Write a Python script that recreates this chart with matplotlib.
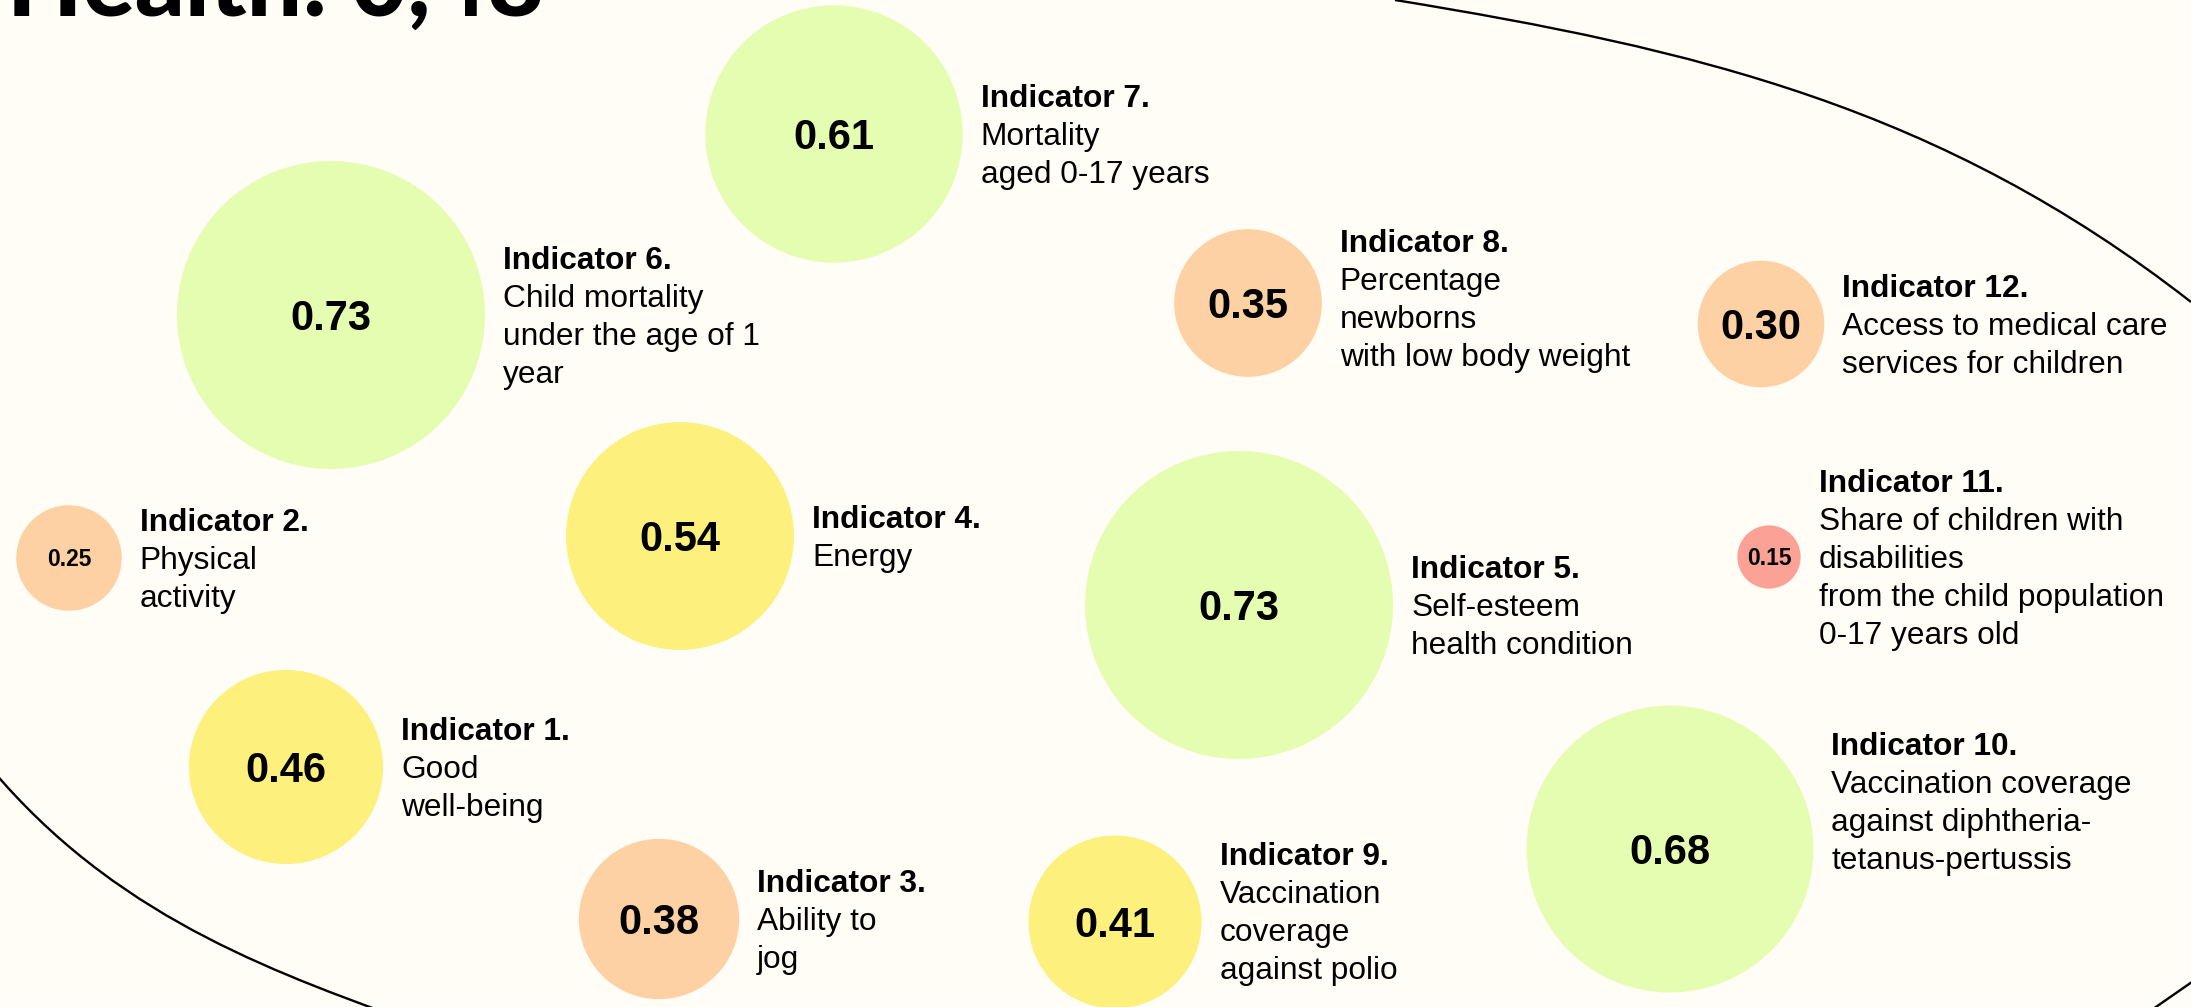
import matplotlib
matplotlib.use("Agg")
import matplotlib.pyplot as plt
from matplotlib.patches import Circle, PathPatch
from matplotlib.path import Path

# ---------------- data ----------------
indicator_ids = [1, 2, 3, 4, 5, 6, 7, 8, 9, 10, 11, 12]
values = [0.46, 0.25, 0.38, 0.54, 0.73, 0.73, 0.61, 0.35, 0.41, 0.68, 0.15, 0.30]
descriptions = [
    "Good\nwell-being",
    "Physical\nactivity",
    "Ability to\njog",
    "Energy",
    "Self-esteem\nhealth condition",
    "Child mortality\nunder the age of 1\nyear",
    "Mortality\naged 0-17 years",
    "Percentage\nnewborns\nwith low body weight",
    "Vaccination\ncoverage\nagainst polio",
    "Vaccination coverage\nagainst diphtheria-\ntetanus-pertussis",
    "Share of children with\ndisabilities\nfrom the child population\n0-17 years old",
    "Access to medical care\nservices for children",
]
title_text = "Health: 0,48"

# ---------------- layout (pixel space) ----------------
x_pos = [286, 69, 659, 680, 1239, 331, 834, 1248, 1115, 1670, 1769, 1761]
y_pos = [767, 558, 919, 536, 605, 315, 134, 303, 922, 849, 557, 324]
label_dy = [0, 0, 0, 0, 0, 0, 0, -5, -11, -48, 0, 0]
RADIUS_SCALE = 211

W, H = 2191, 1007
BG = "#FFFDF5"
GREEN = "#E5FDB0"
YELLOW = "#FDF07C"
PEACH = "#FDD1A3"
SALMON = "#FCA195"


def colour_for(v):
    if v >= 0.55:
        return GREEN
    if v >= 0.40:
        return YELLOW
    if v >= 0.20:
        return PEACH
    return SALMON


fig = plt.figure(figsize=(W / 100, H / 100), dpi=100)
fig.patch.set_facecolor(BG)
ax = fig.add_axes([0, 0, 1, 1])
ax.set_xlim(0, W)
ax.set_ylim(H, 0)
ax.set_facecolor(BG)
ax.axis("off")

# decorative outline (visible pieces of a large oval running off the frame)
C4 = Path.CURVE4
outline_paths = [
    Path([(1395, 0), (1695, 49), (1941, 107), (2191, 302)],
         [Path.MOVETO, C4, C4, C4]),
    Path([(-20, 755), (100, 905), (250, 964), (400, 1018)],
         [Path.MOVETO, C4, C4, C4]),
    Path([(2140, 1018), (2215, 966)], [Path.MOVETO, Path.LINETO]),
]
for p in outline_paths:
    ax.add_patch(PathPatch(p, fill=False, edgecolor="black", lw=1.7,
                           capstyle="butt", zorder=1))

FONT = ["Liberation Sans", "DejaVu Sans"]
LABEL_PT = 22.8
LABEL_EM = LABEL_PT / 0.72
LINE = 38.0

for ind, v, desc, cx, cy, dy in zip(indicator_ids, values, descriptions,
                                     x_pos, y_pos, label_dy):
    r = RADIUS_SCALE * v
    ax.add_patch(Circle((cx, cy), r, facecolor=colour_for(v),
                        edgecolor="none", zorder=2))
    vpt = 16.5 if v < 0.3 else 30
    vem = vpt / 0.72
    ax.text(cx, cy + 0.716 * vem / 2, f"{v:.2f}", ha="center", va="baseline",
            fontsize=vpt, fontweight="bold", family=FONT, color="black",
            zorder=3)
    lines = [(f"Indicator {ind}.", "bold")] + [(s, "normal") for s in desc.split("\n")]
    n = len(lines)
    lx = cx + r + 18
    for i, (s, w) in enumerate(lines):
        by = cy + dy + (i - (n - 1) / 2) * LINE + 0.716 * LABEL_EM / 2
        ax.text(lx, by, s, ha="left", va="baseline", fontsize=LABEL_PT,
                fontweight=w, family=FONT, color="black", zorder=3)

# title (cut off at the top edge, as in the original)
t = ax.text(7, 16, title_text, ha="left", va="baseline", fontsize=60,
            fontweight="black", family=["Lato", "DejaVu Sans"], color="black",
            zorder=3)
fig.canvas.draw()
bb = t.get_window_extent()
t.set_fontsize(60 * 538 / bb.width)

fig.savefig("out.png", dpi=100, facecolor=BG)
